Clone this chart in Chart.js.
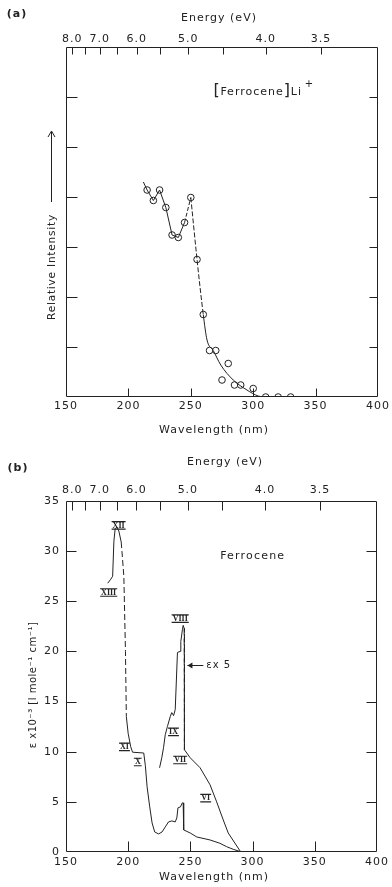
<!DOCTYPE html>
<html><head><meta charset="utf-8">
<script src="https://cdn.jsdelivr.net/npm/chart.js@4.4.1/dist/chart.umd.min.js"></script>
<style>
html,body{margin:0;padding:0;background:#fff;}
.wrap{position:absolute;left:0;width:392px;}
#wrapA{top:0;height:440px;}
#wrapB{top:440px;height:447px;}
canvas{display:block;}
</style></head><body>
<div class="wrap" id="wrapA"><canvas id="ca" width="392" height="440"></canvas></div>
<div class="wrap" id="wrapB"><canvas id="cb" width="392" height="447"></canvas></div>
<script>
// ---------- shared axis data ----------
const wavelengthTicks = [150, 200, 250, 300, 350, 400];
const energyTicks = [8.0, 7.5, 7.0, 6.5, 6.0, 5.5, 5.0, 4.5, 4.0, 3.5];
const energyLabels = ['8.0', '', '7.0', '', '6.0', '', '5.0', '', '4.0', '3.5'];
const HC = 1239.84; // eV*nm

// ---------- panel (a): [Ferrocene]Li+ ----------
const liWavelength = [215, 220, 225, 230, 235, 240, 245, 250, 255, 260, 265, 270, 275, 280, 285, 290, 300, 310, 320, 330];
const liIntensity  = [4.14, 3.93, 4.14, 3.79, 3.24, 3.19, 3.49, 3.99, 2.75, 1.65, 0.93, 0.93, 0.34, 0.67, 0.24, 0.24, 0.17, 0, 0, 0];
const liTraceWavelength = [212, 215, 220, 225, 230, 235, 240, 245, 250];
const liTraceIntensity  = [4.3, 4.14, 3.93, 4.14, 3.79, 3.24, 3.19, 3.49, 3.99];
const liFitWavelength = [250, 255, 260, 263, 268, 274, 284, 295, 304, 310];
const liFitIntensity  = [3.99, 2.75, 1.65, 1.14, 0.93, 0.64, 0.34, 0.14, 0.02, 0];
const intensityTicks = [1, 2, 3, 4, 5, 6];

// ---------- panel (b): Ferrocene ----------
const feWavelength = [183.5, 186, 187.5, 188.5, 189.5, 191, 192.5, 194.4, 196.5, 197.8, 198.5, 200, 202, 203.5, 212.5, 213.8, 215.2, 217.3, 219.2, 221.3, 224.4, 227.2, 229.8, 232.4, 235.1, 237.8, 239.1, 240, 242, 243.5, 244.2, 244.6, 249.8, 255.1, 265.8, 273.7, 279.1, 284.4, 291.1];
const feEpsilon    = [26.8, 27.2, 27.5, 31, 32.2, 32.4, 32, 30.9, 27.5, 20, 13.5, 11.8, 10.5, 9.95, 9.87, 8.6, 6.5, 4.5, 2.9, 2.0, 1.8, 2.0, 2.5, 3.0, 3.1, 3.0, 3.4, 4.4, 4.5, 4.9, 4.9, 2.2, 1.9, 1.5, 1.2, 0.87, 0.53, 0.27, 0];
const feX5Wavelength = [225.2, 227, 228.4, 229.8, 231.5, 233.8, 235, 236.5, 237.8, 239.6, 241.8, 242.3, 243.6, 244.2, 245, 245.2, 249.8, 257.8, 265.8, 271.1, 276.4, 280.4, 285.7, 290.5];
const feX5Epsilon    = [8.4, 9.4, 10.4, 11.7, 12.5, 13.5, 13.9, 13.6, 14.2, 19.9, 20, 21, 22.2, 22.6, 22.3, 10.2, 9.4, 8.4, 6.7, 5.0, 3.2, 1.9, 0.9, 0];
const epsilonTicks = [0, 5, 10, 15, 20, 25, 30, 35];

const bandNames = ['XII', 'XIII', 'XI', 'X', 'IX', 'VIII', 'VII', 'VI'];
const bandWavelength = [192.3, 184.3, 197, 207.7, 236.4, 241.8, 241.8, 262.3];
const bandEpsilon = [32.6, 25.9, 10.5, 9.0, 12.0, 23.3, 9.2, 5.4];

// ---------- helpers ----------
const INK = '#222';
const FONT = '"DejaVu Sans", sans-serif';
const pts = (xs, ys) => xs.map((x, i) => ({x: x, y: ys[i]}));

function xScales(topPad, bottomPad, topH, bottomH) {
  return {
    x: {
      type: 'linear', position: 'bottom', min: 150, max: 400,
      afterBuildTicks: s => { s.ticks = wavelengthTicks.map(v => ({value: v})); },
      afterFit: s => { s.height = bottomH; },
      grid: {display: false, drawTicks: false}, border: {display: false},
      ticks: {color: INK, font: {family: FONT, size: 11}, padding: bottomPad, maxRotation: 0, autoSkip: false}
    },
    xTop: {
      type: 'linear', position: 'top', min: 150, max: 400,
      afterBuildTicks: s => { s.ticks = energyTicks.map(e => ({value: HC / e})); },
      afterFit: s => { s.height = topH; },
      grid: {display: false, drawTicks: false}, border: {display: false},
      ticks: {color: INK, font: {family: FONT, size: 11}, padding: topPad, maxRotation: 0, autoSkip: false,
        callback: (v, i) => energyLabels[i]}
    }
  };
}

function decor(cfg) {
  return {
    id: 'decor',
    beforeDraw(chart) { chart.ctx.letterSpacing = '1px'; },
    afterDraw(chart) {
      const {ctx, chartArea: a, scales} = chart;
      const X = v => scales.x.getPixelForValue(v);
      const Y = v => scales.y.getPixelForValue(v);
      ctx.save();
      ctx.strokeStyle = INK; ctx.fillStyle = INK; ctx.lineWidth = 1;
      // frame
      const L = Math.round(a.left) + 0.5, R = Math.round(a.right) - 0.5;
      const T = Math.round(a.top) + 0.5, B = Math.round(a.bottom) - 0.5;
      ctx.beginPath(); ctx.rect(L, T, R - L, B - T); ctx.stroke();
      ctx.beginPath();
      cfg.yTicks.forEach(v => {
        const y = Math.round(Y(v)) + 0.5;
        ctx.moveTo(L, y); ctx.lineTo(L + cfg.leftTick, y);
        ctx.moveTo(R, y); ctx.lineTo(R - cfg.rightTick, y);
      });
      wavelengthTicks.slice(1, -1).forEach(v => {
        const x = Math.round(X(v)) + 0.5;
        ctx.moveTo(x, B); ctx.lineTo(x, B - cfg.bottomTick);
      });
      energyTicks.forEach(e => {
        const x = Math.round(X(HC / e)) + 0.5;
        ctx.moveTo(x, T); ctx.lineTo(x, T + cfg.topTick);
      });
      ctx.stroke();
      // titles
      ctx.textAlign = 'center'; ctx.textBaseline = 'middle';
      ctx.font = '11px ' + FONT;
      ctx.fillText('Energy (eV)', cfg.energyTitle[0], cfg.energyTitle[1]);
      ctx.fillText('Wavelength (nm)', cfg.waveTitle[0], cfg.waveTitle[1]);
      ctx.font = 'bold 11px ' + FONT;
      ctx.fillText(cfg.panel, cfg.panelPos[0], cfg.panelPos[1]);
      if (cfg.extra) cfg.extra(chart, ctx, X, Y);
      ctx.restore();
    }
  };
}

function drawRoman(ctx, text, x, y) {
  ctx.save();
  ctx.letterSpacing = '0px';
  ctx.font = 'bold 8px "Liberation Serif", serif';
  ctx.textAlign = 'center'; ctx.textBaseline = 'middle';
  const w = ctx.measureText(text).width + 2;
  ctx.fillText(text, x, y + 0.5);
  ctx.lineWidth = 1.2;
  ctx.beginPath();
  ctx.moveTo(x - w / 2, y - 3.5); ctx.lineTo(x + w / 2, y - 3.5);
  ctx.moveTo(x - w / 2, y + 4); ctx.lineTo(x + w / 2, y + 4);
  ctx.stroke();
  ctx.restore();
}

const baseOpts = {
  responsive: false, animation: false, devicePixelRatio: 1,
  plugins: {legend: {display: false}, tooltip: {enabled: false}},
  elements: {line: {borderColor: INK, borderWidth: 1, tension: 0, fill: false}, point: {radius: 0}}
};

// ---------- chart (a) ----------
new Chart(document.getElementById('ca'), {
  type: 'line',
  data: {datasets: [
    {data: pts(liTraceWavelength, liTraceIntensity), borderColor: INK, borderWidth: 1, pointRadius: 0,
     segment: {borderDash: c => (c.p0.parsed.x >= 245 ? [4, 2] : undefined)}},
    {data: pts(liFitWavelength, liFitIntensity), borderColor: INK, borderWidth: 1, pointRadius: 0,
     cubicInterpolationMode: 'monotone',
     segment: {borderDash: c => (c.p1.parsed.x <= 260 ? [5, 2] : undefined)}},
    {data: pts(liWavelength, liIntensity), showLine: false, pointRadius: 3.3, pointStyle: 'circle',
     pointBackgroundColor: '#fff', pointBorderColor: INK, pointBorderWidth: 1}
  ]},
  options: Object.assign({}, baseOpts, {
    layout: {padding: {left: 0, right: 14, top: 0, bottom: 0}},
    scales: Object.assign(xScales(1, 3, 47, 43), {
      y: {type: 'linear', position: 'left', min: 0, max: 7,
          afterFit: s => { s.width = 66; },
          grid: {display: false, drawTicks: false}, border: {display: false},
          ticks: {display: false}}
    })
  }),
  plugins: [decor({
    yTicks: intensityTicks, leftTick: 11, rightTick: 8, bottomTick: 8, topTick: 7,
    energyTitle: [219, 18], waveTitle: [214, 430], panel: '(a)', panelPos: [17, 14],
    extra: (chart, ctx, X, Y) => {
      // y title with arrow
      ctx.save();
      ctx.translate(52, 267); ctx.rotate(-Math.PI / 2);
      ctx.font = '10.5px ' + FONT; ctx.letterSpacing = '0.8px';
      ctx.fillText('Relative Intensity', 0, 0);
      ctx.restore();
      ctx.beginPath(); ctx.moveTo(51.5, 202); ctx.lineTo(51.5, 132); ctx.stroke();
      ctx.beginPath(); ctx.moveTo(48, 137); ctx.lineTo(51.5, 131); ctx.lineTo(55, 137); ctx.stroke();
      // compound label
      const x0 = X(269.7), y0 = Y(6.12);
      ctx.textAlign = 'left';
      ctx.font = '16px ' + FONT; ctx.letterSpacing = '0px';
      ctx.fillText('[', x0 - 2, y0);
      ctx.font = '11px ' + FONT; ctx.letterSpacing = '1px';
      ctx.fillText('Ferrocene', x0 + 5, y0 + 1);
      let w = ctx.measureText('Ferrocene').width;
      ctx.font = '16px ' + FONT; ctx.letterSpacing = '0px';
      ctx.fillText(']', x0 + 5 + w, y0);
      ctx.font = '11px ' + FONT; ctx.letterSpacing = '1px';
      ctx.fillText('Li', x0 + 12 + w, y0 + 1);
      ctx.font = '10px ' + FONT;
      ctx.fillText('+', x0 + 26 + w, y0 - 7);
    }
  })]
});

// ---------- chart (b) ----------
new Chart(document.getElementById('cb'), {
  type: 'line',
  data: {datasets: [
    {data: pts(feWavelength, feEpsilon), borderColor: INK, borderWidth: 1, pointRadius: 0,
     segment: {borderDash: c => (c.p0.parsed.x >= 194.4 && c.p1.parsed.x <= 198.5 ? [6, 3] : undefined)}},
    {data: pts(feX5Wavelength, feX5Epsilon), borderColor: INK, borderWidth: 1, pointRadius: 0,
     segment: {borderDash: c => (c.p0.parsed.x >= 245 && c.p1.parsed.x <= 245.2 ? [7, 3] : undefined)}}
  ]},
  options: Object.assign({}, baseOpts, {
    layout: {padding: {left: 0, right: 15, top: 0, bottom: 0}},
    scales: Object.assign(xScales(4, 4, 61, 35), {
      y: {type: 'linear', position: 'left', min: 0, max: 35,
          afterBuildTicks: s => { s.ticks = epsilonTicks.map(v => ({value: v})); },
          afterFit: s => { s.width = 66; },
          grid: {display: false, drawTicks: false}, border: {display: false},
          ticks: {color: INK, font: {family: FONT, size: 11}, padding: 6}}
    })
  }),
  plugins: [decor({
    yTicks: epsilonTicks.slice(1, -1), leftTick: 10, rightTick: 10, bottomTick: 10, topTick: 9,
    energyTitle: [225, 22], waveTitle: [214, 437], panel: '(b)', panelPos: [18, 28],
    extra: (chart, ctx, X, Y) => {
      // y title
      ctx.save();
      ctx.translate(33, 245); ctx.rotate(-Math.PI / 2);
      ctx.font = '10px ' + FONT; ctx.letterSpacing = '0.5px';
      ctx.fillText('\u03b5 x10\u207b\u00b3 [l mole\u207b\u00b9 cm\u207b\u00b9]', 0, 0);
      ctx.restore();
      // compound name
      ctx.font = '11px ' + FONT; ctx.letterSpacing = '1.2px';
      ctx.fillText('Ferrocene', X(300.1), Y(29.5));
      // band labels
      bandNames.forEach((n, i) => drawRoman(ctx, n, X(bandWavelength[i]), Y(bandEpsilon[i])));
      // epsilon x5 marker
      const ya = Math.round(Y(18.6)) + 0.5, xt = X(247.6), xe = X(260.4);
      ctx.beginPath(); ctx.moveTo(xt, ya); ctx.lineTo(xe, ya); ctx.stroke();
      ctx.beginPath(); ctx.moveTo(xt + 5, ya - 3); ctx.lineTo(xt, ya); ctx.lineTo(xt + 5, ya + 3); ctx.closePath(); ctx.fill();
      ctx.textAlign = 'left'; ctx.font = '10px ' + FONT; ctx.letterSpacing = '1px';
      ctx.fillText('\u03b5x 5', X(262.8), ya);
    }
  })]
});
</script>
</body></html>
